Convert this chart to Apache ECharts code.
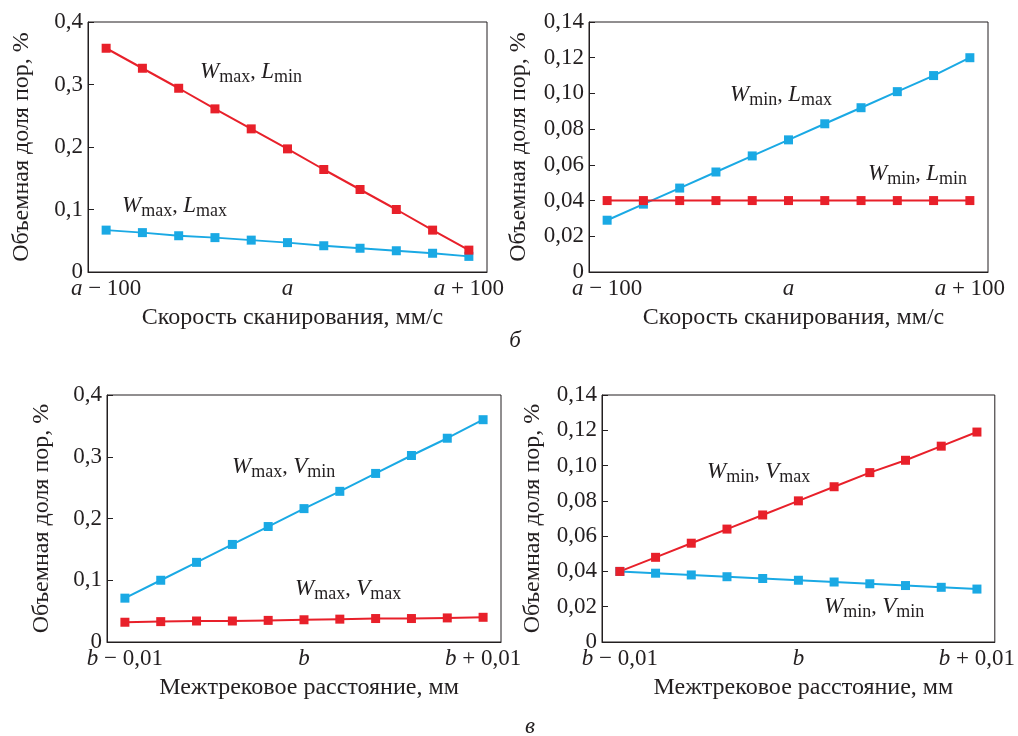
<!DOCTYPE html>
<html>
<head>
<meta charset="utf-8">
<script src="https://cdn.jsdelivr.net/npm/echarts@6/dist/echarts.min.js"></script>
<style>
html,body{margin:0;padding:0;background:#fff;}
#c{width:1018px;height:736px;}
</style>
</head>
<body>
<div id="c"></div>
<script>
// ---- data ----
const speedCats = ['a − 100','a − 80','a − 60','a − 40','a − 20','a','a + 20','a + 40','a + 60','a + 80','a + 100'];
const spacingCats = ['b − 0,01','b − 0,008','b − 0,006','b − 0,004','b − 0,002','b','b + 0,002','b + 0,004','b + 0,006','b + 0,008','b + 0,01'];
const labelIdx = [0, 5, 10];

// panel a (top-left): Wmax
const wmaxLmax = [0.067, 0.063, 0.058, 0.055, 0.051, 0.047, 0.042, 0.038, 0.034, 0.030, 0.025];
const wmaxLmin = [0.358, 0.326, 0.294, 0.261, 0.229, 0.197, 0.164, 0.132, 0.100, 0.067, 0.035];
// panel b (top-right): Wmin
const wminLmax = [0.029, 0.038, 0.047, 0.056, 0.065, 0.074, 0.083, 0.092, 0.101, 0.110, 0.120];
const wminLmin = [0.040, 0.040, 0.040, 0.040, 0.040, 0.040, 0.040, 0.040, 0.040, 0.040, 0.040];
// panel c (bottom-left): Wmax
const wmaxVmin = [0.071, 0.100, 0.129, 0.158, 0.187, 0.216, 0.244, 0.273, 0.302, 0.330, 0.360];
const wmaxVmax = [0.032, 0.033, 0.034, 0.034, 0.035, 0.036, 0.037, 0.038, 0.038, 0.039, 0.040];
// panel d (bottom-right): Wmin
const wminVmin = [0.040, 0.039, 0.038, 0.037, 0.036, 0.035, 0.034, 0.033, 0.032, 0.031, 0.030];
const wminVmax = [0.040, 0.048, 0.056, 0.064, 0.072, 0.080, 0.088, 0.096, 0.103, 0.111, 0.119];

const yTitle = 'Объемная доля пор, %';
const xTitleSpeed = 'Скорость сканирования, мм/с';
const xTitleSpacing = 'Межтрековое расстояние, мм';

// ---- style ----
const FONT = '"Liberation Serif", "Times New Roman", serif';
const RED = '#e8202a';
const BLUE = '#1aa9e4';
const INK = '#231f20';

const grids = [
  {left: 88, top: 22, width: 399, height: 250},
  {left: 589, top: 22, width: 399, height: 250},
  {left: 107, top: 395, width: 394, height: 247},
  {left: 602, top: 395, width: 394, height: 247}
];

function xAxis(gi, cats, name) {
  return {
    type: 'category', gridIndex: gi, data: cats, boundaryGap: true,
    name: name, nameLocation: 'middle', nameGap: 34,
    nameTextStyle: {fontFamily: FONT, fontSize: 24, color: INK, padding: [0, 0, 0, 10]},
    axisLine: {lineStyle: {color: INK, width: 1}},
    axisTick: {inside: true, length: 7, interval: 0, lineStyle: {color: INK}},
    axisLabel: {
      interval: (i) => labelIdx.indexOf(i) >= 0,
      margin: 5,
      fontFamily: FONT, fontSize: 23, color: INK,
      formatter: (v) => v.replace(/^([ab])/, '{i|$1}'),
      rich: {i: {fontFamily: FONT, fontSize: 23, fontStyle: 'italic', color: INK}}
    },
    splitLine: {show: false}
  };
}
function yAxis(gi, max, interval, dec, gap) {
  return {
    type: 'value', gridIndex: gi, min: 0, max: max, interval: interval,
    name: yTitle, nameLocation: 'middle', nameRotate: 90, nameGap: gap,
    nameTextStyle: {fontFamily: FONT, fontSize: 24, color: INK},
    axisLine: {show: true, lineStyle: {color: INK, width: 1}},
    axisTick: {show: true, inside: true, length: 6, lineStyle: {color: INK}},
    axisLabel: {
      margin: 5, fontFamily: FONT, fontSize: 23, color: INK,
      formatter: (v) => v === 0 ? '0' : v.toFixed(dec).replace('.', ',')
    },
    splitLine: {show: false}
  };
}
function line(gi, data, color) {
  return {
    type: 'line', xAxisIndex: gi, yAxisIndex: gi, data: data,
    symbol: 'rect', symbolSize: 9, showSymbol: true,
    lineStyle: {color: color, width: 2},
    itemStyle: {color: color},
    animation: false, silent: true
  };
}
function note(x, y, a, b, c, d) {
  return {
    type: 'text', x: x, y: y, silent: true,
    style: {
      text: '{w|' + a + '}{s|' + b + '}{c|, }{w|' + c + '}{s|' + d + '}',
      verticalAlign: 'middle', align: 'left',
      rich: {
        w: {fontFamily: FONT, fontSize: 23, fontStyle: 'italic', fill: INK},
        s: {fontFamily: FONT, fontSize: 18, fill: INK, padding: [10, 0, 0, 0]},
        c: {fontFamily: FONT, fontSize: 22, fill: INK}
      }
    }
  };
}
function letter(x, y, t) {
  return {type: 'text', x: x, y: y, silent: true,
    style: {text: t, font: 'italic 23px ' + FONT, fill: INK, align: 'center', verticalAlign: 'middle'}};
}

const chart = echarts.init(document.getElementById('c'), null, {renderer: 'canvas'});
chart.setOption({
  backgroundColor: '#fff',
  animation: false,
  grid: grids.map(g => Object.assign({show: true, borderColor: INK, borderWidth: 1, backgroundColor: 'transparent'}, g)),
  xAxis: [
    xAxis(0, speedCats, xTitleSpeed),
    xAxis(1, speedCats, xTitleSpeed),
    xAxis(2, spacingCats, xTitleSpacing),
    xAxis(3, spacingCats, xTitleSpacing)
  ],
  yAxis: [
    yAxis(0, 0.4, 0.1, 1, 54),
    yAxis(1, 0.14, 0.02, 2, 58),
    yAxis(2, 0.4, 0.1, 1, 53),
    yAxis(3, 0.14, 0.02, 2, 57)
  ],
  series: [
    line(0, wmaxLmax, BLUE), line(0, wmaxLmin, RED),
    line(1, wminLmax, BLUE), line(1, wminLmin, RED),
    line(2, wmaxVmin, BLUE), line(2, wmaxVmax, RED),
    line(3, wminVmin, BLUE), line(3, wminVmax, RED)
  ],
  graphic: [
    note(200, 72, 'W', 'max', 'L', 'min'),
    note(122, 206, 'W', 'max', 'L', 'max'),
    note(730, 95, 'W', 'min', 'L', 'max'),
    note(868, 174, 'W', 'min', 'L', 'min'),
    note(232, 467, 'W', 'max', 'V', 'min'),
    note(295, 589, 'W', 'max', 'V', 'max'),
    note(707, 472, 'W', 'min', 'V', 'max'),
    note(824, 607, 'W', 'min', 'V', 'min'),
    letter(515, 341, 'б'),
    letter(530, 727, 'в')
  ]
});
</script>
</body>
</html>
